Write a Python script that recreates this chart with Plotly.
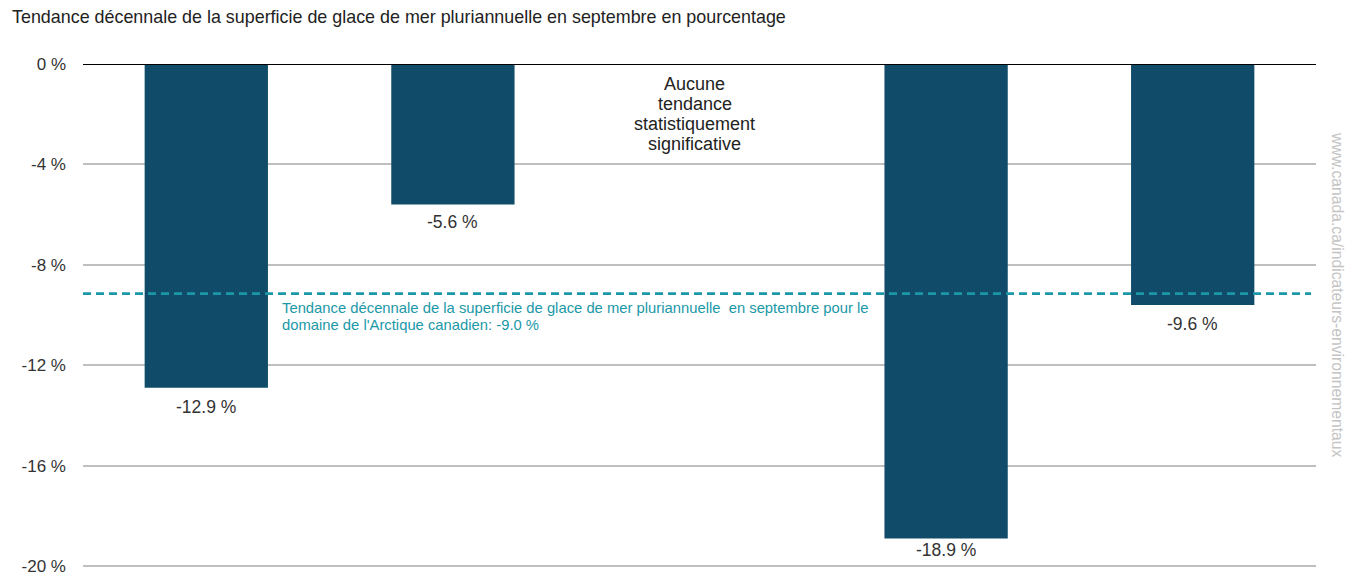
import plotly.graph_objects as go

categories = ["Région 1", "Région 2", "Région 3", "Région 4", "Région 5"]
values = [-12.9, -5.6, None, -18.9, -9.6]
bar_labels = ["-12.9 %", "-5.6 %", "", "-18.9 %", "-9.6 %"]
canada_trend = -9.15
canada_label_lines = [
    "Tendance décennale de la superficie de glace de mer pluriannuelle  en septembre pour le",
    "domaine de l'Arctique canadien: -9.0 %",
]
no_trend_lines = ["Aucune", "tendance", "statistiquement", "significative"]
y_ticks = [0, -4, -8, -12, -16, -20]
y_tick_text = ["0 %", "-4 %", "-8 %", "-12 %", "-16 %", "-20 %"]

FONT = "Liberation Sans, Arial, sans-serif"
TEAL = "#1b98a8"
label_gap_px = [19, 17, 0, 12, 19]

fig = go.Figure()
fig.add_trace(go.Bar(
    x=categories, y=values,
    marker=dict(color="#104c69", line=dict(width=0)),
    cliponaxis=False, hoverinfo="skip",
))

for cat, val, lab, gap in zip(categories, values, bar_labels, label_gap_px):
    if val is None:
        continue
    fig.add_annotation(x=cat, y=val, yshift=-gap, text=lab, showarrow=False,
                       yanchor="middle", xanchor="center",
                       font=dict(family=FONT, size=17.5, color="#333333"))

fig.add_shape(type="line", xref="paper", yref="y", x0=0, x1=0.996,
              y0=canada_trend, y1=canada_trend, layer="above",
              line=dict(color=TEAL, width=2.6, dash="8px,5px"))
fig.add_shape(type="line", xref="paper", yref="y", x0=0, x1=1, y0=0, y1=0,
              line=dict(color="#000000", width=2))

for i, line in enumerate(canada_label_lines):
    fig.add_annotation(x=categories[0], xref="x", xshift=74, y=canada_trend, yref="y",
                       yshift=-14 - 17 * i, text=line, showarrow=False, align="left",
                       xanchor="left", yanchor="middle",
                       font=dict(family=FONT, size=14.8, color=TEAL))
for i, line in enumerate(no_trend_lines):
    fig.add_annotation(x=categories[2], xshift=-5, y=0, yref="y", yshift=-20 - 20 * i,
                       text=line, showarrow=False, align="center", yanchor="middle",
                       font=dict(family=FONT, size=18, color="#222222"))
fig.add_annotation(x=1, xref="paper", xshift=22, xanchor="center", y=1, yref="paper",
                   yanchor="top", yshift=-66,
                   text="www.canada.ca/indicateurs-environnementaux", textangle=90,
                   showarrow=False, font=dict(family=FONT, size=15.7, color="#c4c4c4"))
fig.add_annotation(x=0, xref="paper", xshift=-73, xanchor="left", y=1, yref="paper",
                   yshift=47, yanchor="middle", showarrow=False,
                   text="Tendance décennale de la superficie de glace de mer pluriannuelle en septembre en pourcentage",
                   font=dict(family=FONT, size=17.9, color="#222222"))

fig.update_layout(
    width=1354, height=576,
    margin=dict(l=83, r=38, t=64, b=8),
    paper_bgcolor="white", plot_bgcolor="white",
    bargap=0.5, showlegend=False,
    font=dict(family=FONT),
)
fig.update_xaxes(showticklabels=False, showgrid=False, zeroline=False, showline=False,
                 range=[-0.5, 4.5], automargin=False)
fig.update_yaxes(range=[-20.08, 0], tickmode="array", tickvals=y_ticks, ticktext=y_tick_text,
                 showgrid=True, gridcolor="#bfbfbf", gridwidth=1.5, zeroline=False,
                 tickfont=dict(family=FONT, size=17, color="#333333"),
                 ticks="", ticklabelstandoff=16, automargin=False)

fig.write_html("out.html", config={"displayModeBar": False},
               post_script="document.body.style.margin='0';")
